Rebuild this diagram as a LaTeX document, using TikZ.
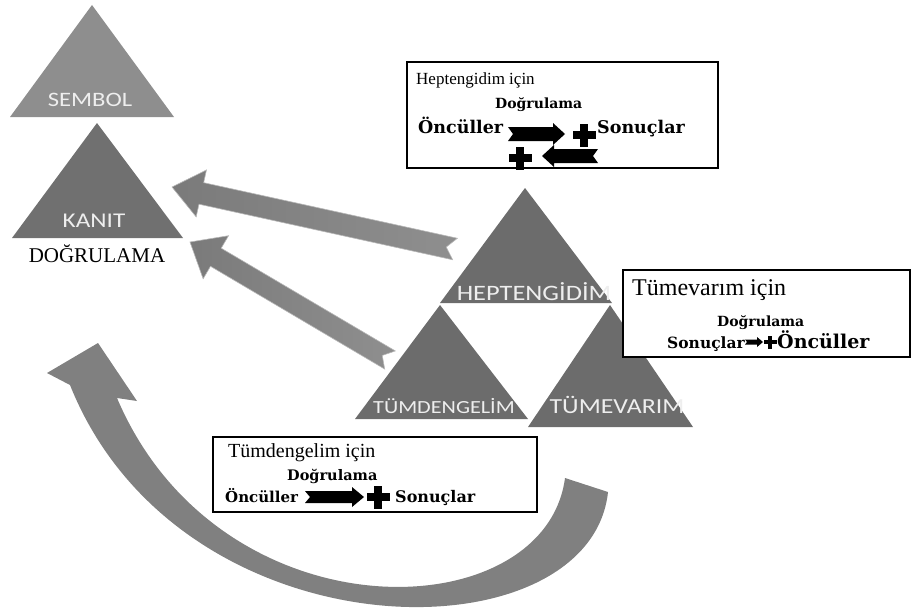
\documentclass[tikz,border=0pt]{standalone}
\usepackage{fontspec}
\setmainfont{Liberation Serif}
\newfontfamily\labelsans[FakeStretch=1.2]{Carlito}
\newfontfamily\wideserif{DejaVu Serif}
\usetikzlibrary{calc}
\definecolor{tria}{RGB}{142,142,142}
\definecolor{trib}{RGB}{112,112,112}
\definecolor{tric}{RGB}{108,108,108}
\definecolor{lbl}{RGB}{238,238,238}
\definecolor{arr}{RGB}{128,128,128}
\newcommand{\fz}[1]{\fontsize{#1}{#1}\selectfont}
\newcommand{\notcharrow}[7]{\coordinate (#1-h) at ($(#2)!#5!(#1)$);
	\coordinate (#1-n) at ($(#1)!#6!(#2)$);
	\path[#7] ($(#1)!#3!90:(#2)$) -- ($(#1-h)!#3!90:(#2)$) -- ($(#1-h)!#4!90:(#2)$) -- (#2)
		-- ($(#1-h)!#4!-90:(#2)$) -- ($(#1-h)!#3!-90:(#2)$) -- ($(#1)!#3!-90:(#2)$) -- (#1-n) -- cycle; }
\newcommand{\plussign}[5]{\coordinate (#1) at (#2,#3);
	\fill ($(#1)+(-#4,-#5)$) rectangle ($(#1)+(#4,#5)$);
	\fill ($(#1)+(-#5,-#4)$) rectangle ($(#1)+(#5,#4)$); }
\tikzset{
	trilabel/.style={anchor=base,inner sep=0pt,text=lbl,font=\labelsans\fz{#1}},
	boxtext/.style={anchor=base west,inner sep=0pt,font=\fz{#1}},
	boldtext/.style={anchor=base west,inner sep=0pt,font=\wideserif\bfseries\fz{#1}},
	infobox/.style={draw,line width=1.2pt,fill=white,inner sep=0pt},
	grayarrow/.style={left color=black!52,right color=black!44,draw=black!28,line width=0.6pt},
}

\begin{document}
\begin{tikzpicture}[x=1pt,y=-1pt]
	\useasboundingbox (0,0) rectangle (912,610);

	\fill[tria] (92,5) -- (10,117) -- (174,117) -- cycle;
	\fill[trib] (97,123) -- (12,238) -- (183,238) -- cycle;
	\fill[tric] (525,188) -- (440,303) -- (612,303) -- cycle;
	\fill[tric] (440,305) -- (355,419) -- (528,419) -- cycle;
	\fill[tric] (610,305) -- (528,427) -- (693,427) -- cycle;

	\node[trilabel=20.5] (sembol) at (90,106) {SEMBOL};
	\node[trilabel=21] (kanit) at (94,227) {KANIT};
	\node[anchor=base,inner sep=0pt,font=\fz{21}] (dogrulama) at (97,262) {DOĞRULAMA};
	\node[trilabel=22] (hept) at (534,300) {HEPTENGİDİM};
	\node[trilabel=18.5] (tumden) at (444,413) {TÜMDENGELİM};
	\node[trilabel=21.5] (tumev) at (617,413) {TÜMEVARIM};

	\coordinate (hepTail) at (455,249);
	\coordinate (kanitUp) at (172,187);
	\coordinate (tdTail) at (390,360);
	\coordinate (kanitLow) at (190,242);
	\notcharrow{hepTail}{kanitUp}{11pt}{24pt}{30pt}{9pt}{grayarrow}
	\notcharrow{tdTail}{kanitLow}{10.5pt}{25pt}{30pt}{9pt}{grayarrow}

	\fill[arr] (608,492) .. controls (590,660) and (180,660) .. (70,385) -- (47,373) -- (98,343)
		-- (137,401) -- (117,398) .. controls (220,640) and (545,630) .. (565,478) -- cycle;

	\node[infobox,minimum width=311pt,minimum height=106pt] (hepBox) at (562.5,115) {};
	\node[boxtext=17] (hepTitle) at (416,84) {Heptengidim için};
	\node[boldtext=14] (hepDog) at (495,108) {Doğrulama};
	\node[boldtext=17.5] (hepOnc) at (418,133) {Öncüller};
	\node[boldtext=17.5] (hepSon) at (597,133) {Sonuçlar};
	\coordinate (hepA) at (508,134);
	\coordinate (hepB) at (565,134);
	\coordinate (hepC) at (598,156);
	\coordinate (hepD) at (542,156);
	\notcharrow{hepA}{hepB}{7pt}{11pt}{12pt}{5pt}{fill=black}
	\notcharrow{hepC}{hepD}{7pt}{11pt}{12pt}{5pt}{fill=black}
	\plussign{hepPlusA}{584}{135}{11.5}{4}
	\plussign{hepPlusB}{520}{158}{11.5}{4}

	\node[infobox,minimum width=287pt,minimum height=87pt] (tvBox) at (766.5,313.5) {};
	\node[boxtext=24] (tvTitle) at (632,295) {Tümevarım için};
	\node[boldtext=14] (tvDog) at (717,326) {Doğrulama};
	\node[boldtext=15.5] (tvSon) at (667,348) {Sonuçlar};
	\coordinate (tvA) at (745,342);
	\coordinate (tvB) at (763,342);
	\notcharrow{tvA}{tvB}{2.5pt}{5pt}{6pt}{2pt}{fill=black}
	\plussign{tvPlus}{770}{342}{6.5}{2.2}
	\node[boldtext=19] (tvOnc) at (777,348) {Öncüller};

	\node[infobox,minimum width=324pt,minimum height=75pt] (tdBox) at (375,474.5) {};
	\node[boxtext=20] (tdTitle) at (228,457) {Tümdengelim için};
	\node[boldtext=14.5] (tdDog) at (287,480) {Doğrulama};
	\node[boldtext=15] (tdOnc) at (225,502) {Öncüller};
	\coordinate (tdA) at (305,497);
	\coordinate (tdB) at (364,497);
	\notcharrow{tdA}{tdB}{6pt}{10pt}{12pt}{5pt}{fill=black}
	\plussign{tdPlus}{378}{497}{11.5}{4}
	\node[boldtext=16] (tdSon) at (395,502) {Sonuçlar};
\end{tikzpicture}
\end{document}
